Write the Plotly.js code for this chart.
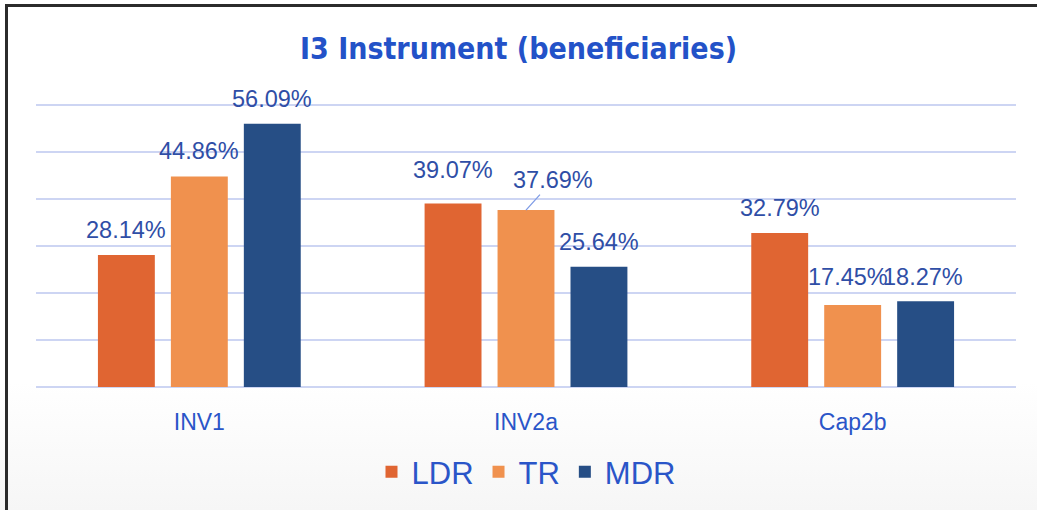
<!DOCTYPE html>
<html>
<head>
<meta charset="utf-8">
<script src="https://cdn.plot.ly/plotly-3.0.1.min.js"></script>
<style>
  html, body { margin: 0; padding: 0; width: 1037px; height: 510px; overflow: hidden;
    background: linear-gradient(to bottom, #ffffff 0%, #ffffff 75%, #f6f6f6 100%); }
  #frame { position: absolute; left: 5px; top: 4px; width: 1060px; height: 540px;
    border-left: 3px solid #2b2b2b; border-top: 3px solid #2b2b2b; box-sizing: border-box; }
  #chart { position: absolute; left: 0; top: 0; width: 1037px; height: 510px; }
</style>
</head>
<body>
<div id="frame"></div>
<div id="chart"></div>
<script>
// ---- data ----
const categories = ["INV1", "INV2a", "Cap2b"];
const seriesNames = ["LDR", "TR", "MDR"];
const ldrValues = [28.14, 39.07, 32.79];
const trValues  = [44.86, 37.69, 17.45];
const mdrValues = [56.09, 25.64, 18.27];
const yTickVals = [0, 10, 20, 30, 40, 50, 60];

// ---- style ----
const colors = ["#e06532", "#f0914e", "#264e85"];
const labelColor = "#2f4ea6";
const tickColor = "#2a55c8";
const seriesValues = [ldrValues, trValues, mdrValues];

const traces = seriesValues.map((vals, i) => ({
  type: "bar",
  name: seriesNames[i],
  x: categories,
  y: vals,
  marker: { color: colors[i] },
  hoverinfo: "skip"
}));

// label offsets (pixels) per [series][category]: [xshift, yshift]
const slot = 73;
const labelOffsets = [
  [[0, 25], [0, 34], [0, 25]],
  [[0, 25], [27, 30], [-5, 28]],
  [[0, 25], [0, 25], [-3, 24]]
];
const labelFont = { family: "Liberation Sans, Arial, sans-serif", size: 23.5, color: labelColor };

const annotations = [];
seriesValues.forEach((vals, s) => {
  vals.forEach((v, c) => {
    const off = labelOffsets[s][c];
    const baseX = (s - 1) * slot;
    const txt = v.toFixed(2) + "%";
    if (s === 1 && c === 1) {
      annotations.push({
        x: categories[c], y: v, xref: "x", yref: "y", text: txt,
        showarrow: true, arrowhead: 0, arrowwidth: 1.3, arrowcolor: "#7f9ce6",
        xshift: baseX, ax: off[0], ay: -off[1],
        font: labelFont
      });
    } else {
      annotations.push({
        x: categories[c], y: v, xref: "x", yref: "y", text: txt,
        showarrow: false, xanchor: "center", yanchor: "middle",
        xshift: baseX + off[0], yshift: off[1],
        font: labelFont
      });
    }
  });
});

const layout = {
  width: 1037, height: 510,
  margin: { l: 36, r: 21, t: 103, b: 122 },
  paper_bgcolor: "rgba(0,0,0,0)",
  plot_bgcolor: "rgba(0,0,0,0)",
  title: {
    text: "<b>I3 Instrument (beneficiaries)</b>",
    x: 0.5, xanchor: "center", y: 0.905, yanchor: "middle",
    font: { family: "Liberation Sans Narrow, DejaVu Sans Condensed, sans-serif", size: 30, color: "#2352c8" }
  },
  barmode: "group",
  bargap: 0.33,
  bargroupgap: 0.22,
  xaxis: {
    type: "category",
    showgrid: false, showline: false, zeroline: false,
    ticks: "outside", ticklen: 14, tickcolor: "rgba(0,0,0,0)",
    tickfont: { family: "Liberation Sans, Arial, sans-serif", size: 23, color: tickColor }
  },
  yaxis: {
    range: [0, 60.5],
    tickvals: yTickVals,
    showticklabels: false,
    showgrid: true, gridcolor: "#cdd5f3", gridwidth: 2,
    zeroline: true, zerolinecolor: "#cdd5f3", zerolinewidth: 2,
    showline: false, fixedrange: true
  },
  showlegend: true,
  legend: {
    orientation: "h", x: 0.5, xanchor: "center", y: -0.295, yanchor: "middle",
    font: { family: "Liberation Sans, Arial, sans-serif", size: 31, color: tickColor },
    itemwidth: 30, traceorder: "normal"
  },
  annotations: annotations
};

Plotly.newPlot("chart", traces, layout, { displayModeBar: false, staticPlot: true });
</script>
</body>
</html>
